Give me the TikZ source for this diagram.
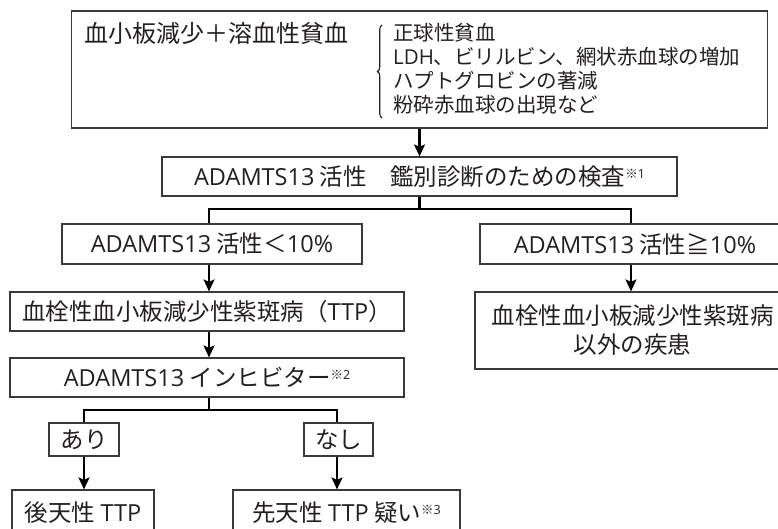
\documentclass[tikz,border=0pt]{standalone}
\usepackage{fontspec}
\setmainfont{Noto Sans CJK JP}
\newfontfamily\lat{Open Sans}
\usetikzlibrary{arrows.meta,decorations.pathreplacing}
\definecolor{boxcol}{HTML}{3A3A3A}
\definecolor{txtcol}{HTML}{231F20}
\newcommand{\noteref}[1]{\raisebox{7pt}{\fontsize{12.5}{12.5}\selectfont ※{\lat #1}}}
\begin{document}
\begin{tikzpicture}[x=1pt,y=-1pt,
  box/.style={draw=boxcol, line width=1.2pt, inner sep=0pt, rectangle, text=txtcol,
    font=\fontsize{23.5}{29}\selectfont, align=center},
  plain/.style={inner sep=0pt, text=txtcol, font=\fontsize{24}{29}\selectfont},
  listtxt/.style={inner sep=0pt, text=txtcol, font=\fontsize{20.5}{24}\selectfont, anchor=west},
  conn/.style={draw=black, line width=2.1pt},
  arr/.style={conn, -{Stealth[length=12pt,width=11pt,inset=2.5pt]}}]
\useasboundingbox (0,0) rectangle (778,528);

% top box
\node[box, minimum width=696pt, minimum height=117pt] (top) at (419.5,69.5) {};
\node[plain, anchor=west] (main) at (84,33) {血小板減少＋溶血性貧血};
\node[listtxt] (l1) at (393,33) {正球性貧血};
\node[listtxt] (l2) at (393,57) {{\lat LDH}、ビリルビン、網状赤血球の増加};
\node[listtxt] (l3) at (393,81) {ハプトグロビンの著減};
\node[listtxt] (l4) at (393,105) {粉砕赤血球の出現など};
\coordinate (bra) at (382,118);
\coordinate (brb) at (382,25);
\draw[line width=1.1pt, draw=txtcol, decorate, decoration={brace, amplitude=4.5pt}] (bra) -- (brb);

% ADAMTS13 test
\node[box, minimum width=515pt, minimum height=39pt] (adam) at (419.5,176.5) {{\lat ADAMTS13} 活性\quad 鑑別診断のための検査\noteref{1}};
\draw[arr] (top.south) -- (adam.north);

% branch 1
\coordinate (bm) at (419.5,209);
\coordinate (bl) at (209,209);
\coordinate (br) at (631,209);
\node[box, minimum width=300pt, minimum height=40pt] (lt) at (212,244) {{\lat ADAMTS13} 活性＜{\lat 10\%}};
\node[box, minimum width=310pt, minimum height=40pt] (rt) at (635,244) {{\lat ADAMTS13} 活性≧{\lat 10\%}};
\draw[conn] (adam.south) -- (bm);
\draw[conn, line cap=rect] (bl) -- (br);
\draw[conn] (bl) -- (bl |- lt.north);
\draw[conn] (br) -- (br |- rt.north);

% left chain
\node[box, minimum width=394pt, minimum height=39pt] (ttp) at (207,311.5) {血栓性血小板減少性紫斑病（{\lat TTP}）};
\node[box, minimum width=394pt, minimum height=39pt] (inh) at (207,377.5) {{\lat ADAMTS13} インヒビター\noteref{2}};
\draw[arr] (bl |- lt.south) -- (bl |- ttp.north);
\draw[arr] (bl |- ttp.south) -- (bl |- inh.north);

% right chain
\node[box, minimum width=315pt, minimum height=77pt] (big) at (632.5,330.5) {血栓性血小板減少性紫斑病\\以外の疾患};
\draw[arr] (br |- rt.south) -- (br |- big.north);

% branch 2
\coordinate (cm) at (209,410);
\coordinate (cl) at (84,410);
\coordinate (cr) at (337,410);
\node[box, minimum width=70pt, minimum height=33pt] (ari) at (84,439.5) {あり};
\node[box, minimum width=69pt, minimum height=33pt] (nasi) at (338.5,439.5) {なし};
\draw[conn] (bl |- inh.south) -- (cm);
\draw[conn, line cap=rect] (cl) -- (cr);
\draw[conn] (cl) -- (cl |- ari.north);
\draw[conn] (cr) -- (cr |- nasi.north);

% bottom
\node[box, minimum width=142pt, minimum height=45pt] (kou) at (83,512.5) {後天性 {\lat TTP}};
\node[box, minimum width=227pt, minimum height=45pt] (sen) at (346.5,512.5) {先天性 {\lat TTP} 疑い\noteref{3}};
\draw[arr] (cl |- ari.south) -- (cl |- kou.north);
\draw[arr] (cr |- nasi.south) -- (cr |- sen.north);
\end{tikzpicture}
\end{document}
